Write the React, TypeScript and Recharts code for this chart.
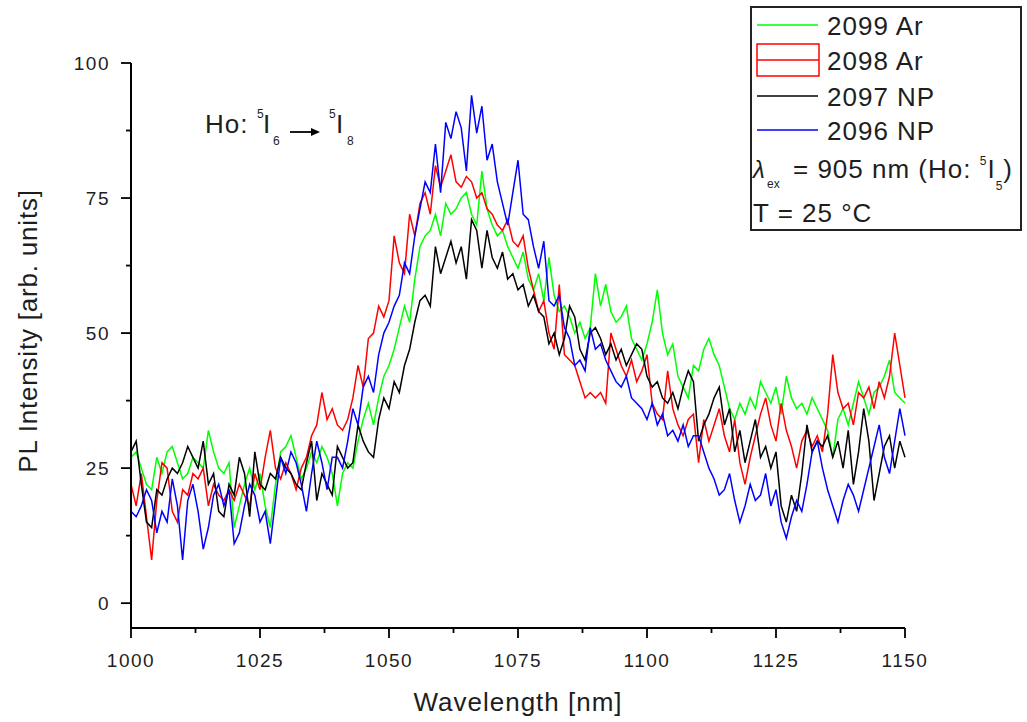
import React from 'react';
import { LineChart, Line, XAxis, YAxis, Customized } from 'recharts';

const FONT = '"Liberation Sans", Arial, sans-serif';
const TEXT = '#1e1e1e';

// wavelength grid, 1 nm step
const WAVELENGTH_NM = Array.from({ length: 151 }, (_, i) => 1000 + i);

// PL intensity, 1000..1150 nm
const S2099_AR = [
  27, 28, 25, 22, 21, 27, 24, 28, 29, 26,
  23, 24, 27, 26, 25, 32, 28, 25, 24, 26,
  14, 18, 22, 25, 21, 24, 18, 14, 22, 28,
  29, 31, 27, 23, 25, 28, 26, 29, 27, 24,
  18, 24, 26, 25, 30, 34, 37, 33, 38, 42,
  44, 47, 51, 55, 52, 60, 66, 68, 69, 72,
  68, 74, 72, 73, 75, 76, 72, 70, 80, 73,
  70, 68, 69, 66, 64, 62, 65, 60, 58, 61,
  56, 64, 57, 54, 55, 53, 50, 52, 49, 51,
  61, 55, 59, 54, 52, 53, 55, 49, 47, 45,
  48, 52, 58, 50, 46, 48, 42, 40, 38, 44,
  43, 47, 49, 46, 44, 40, 36, 34, 37, 35,
  38, 36, 41, 39, 37, 40, 35, 42, 38, 36,
  37, 35, 38, 36, 34, 32, 27, 34, 36, 33,
  37, 41, 38, 35, 39, 40, 42, 45, 39, 38,
  37,
];

const S2098_AR = [
  22, 18, 24, 16, 8, 19, 26, 25, 17, 15,
  21, 20, 24, 23, 25, 18, 22, 20, 19, 21,
  19, 22, 20, 18, 24, 21, 27, 32, 25, 23,
  26, 24, 21, 25, 27, 31, 33, 39, 34, 36,
  33, 32, 34, 38, 44, 40, 49, 50, 55, 53,
  56, 68, 63, 61, 72, 68, 74, 76, 72, 81,
  77, 80, 83, 78, 77, 79, 78, 75, 76, 73,
  72, 70, 69, 71, 67, 66, 68, 62, 58, 54,
  56, 50, 47, 59, 46, 45, 44, 41, 38, 39,
  38, 39, 37, 50, 47, 44, 42, 45, 41, 43,
  46, 37, 35, 34, 43, 36, 33, 31, 34, 35,
  26, 34, 30, 33, 36, 31, 28, 34, 26, 22,
  27, 31, 35, 38, 33, 30, 37, 32, 29, 25,
  30, 32, 29, 31, 28, 35, 46, 39, 36, 37,
  33, 39, 38, 40, 36, 41, 38, 42, 50, 44,
  38,
];

const S2097_NP = [
  28, 30, 22, 15, 14, 21, 20, 23, 25, 24,
  26, 29, 27, 25, 30, 22, 24, 17, 16, 22,
  20, 27, 24, 16, 28, 22, 21, 24, 23, 27,
  25, 24, 22, 21, 26, 30, 19, 24, 22, 20,
  29, 27, 25, 26, 33, 30, 28, 27, 34, 38,
  36, 41, 39, 44, 47, 52, 56, 57, 55, 66,
  61, 64, 67, 63, 66, 60, 71, 69, 62, 69,
  64, 62, 65, 60, 61, 58, 59, 55, 57, 54,
  53, 48, 50, 46, 49, 55, 53, 47, 45, 50,
  51, 49, 46, 48, 45, 47, 44, 46, 48, 47,
  42, 40, 41, 38, 37, 39, 36, 40, 43, 41,
  30, 33, 35, 38, 40, 33, 36, 28, 32, 26,
  30, 34, 27, 29, 25, 28, 18, 15, 20, 17,
  24, 33, 28, 30, 29, 31, 27, 30, 25, 32,
  22, 28, 36, 30, 19, 24, 29, 31, 25, 30,
  27,
];

const S2096_NP = [
  17, 16, 18, 21, 19, 13, 17, 15, 23, 18,
  8, 19, 22, 17, 10, 14, 20, 22, 18, 21,
  11, 13, 18, 22, 20, 15, 17, 11, 19, 27,
  24, 28, 26, 22, 17, 24, 30, 26, 21, 27,
  27, 25, 30, 36, 33, 40, 42, 39, 46, 50,
  52, 55, 57, 63, 61, 68, 73, 78, 76, 85,
  76, 89, 86, 91, 88, 80, 94, 87, 92, 82,
  85, 78, 74, 70, 76, 82, 72, 71, 66, 62,
  67, 56, 55, 57, 51, 49, 44, 45, 43, 51,
  47, 48, 45, 43, 41, 40, 42, 38, 37, 36,
  34, 37, 33, 35, 31, 32, 30, 33, 29, 31,
  31, 28, 25, 23, 20, 21, 24, 19, 15, 18,
  22, 19, 20, 24, 18, 21, 15, 12, 16, 19,
  17, 22, 28, 30, 25, 21, 18, 15, 19, 22,
  20, 17, 21, 25, 29, 33, 27, 24, 30, 36,
  31,
];

const SERIES = [
  { key: 's2099', name: '2099 Ar', color: '#00ff00', values: S2099_AR },
  { key: 's2098', name: '2098 Ar', color: '#ff0000', values: S2098_AR },
  { key: 's2097', name: '2097 NP', color: '#000000', values: S2097_NP },
  { key: 's2096', name: '2096 NP', color: '#0000ff', values: S2096_NP },
];

const X_TICKS = [1000, 1012.5, 1025, 1037.5, 1050, 1062.5, 1075, 1087.5, 1100, 1112.5, 1125, 1137.5, 1150];
const Y_TICKS = [0, 12.5, 25, 37.5, 50, 62.5, 75, 87.5, 100];

const data = WAVELENGTH_NM.map((nm, i) => {
  const row: any = { nm };
  SERIES.forEach(s => { row[s.key] = s.values[i]; });
  return row;
});

const XTick = (props: any) => {
  const { x, y, payload } = props;
  const major = payload.value % 25 === 0;
  const axisY = y - 10;
  return (
    <g>
      <line x1={x} x2={x} y1={axisY} y2={axisY + (major ? 10 : 5)} stroke="#000" strokeWidth={1.8} />
      {major && (
        <text x={x} y={axisY + 39} textAnchor="middle" fontFamily={FONT} fontSize={19} letterSpacing={1.5} fill={TEXT}>
          {payload.value}
        </text>
      )}
    </g>
  );
};

const YTick = (props: any) => {
  const { x, y, payload } = props;
  const major = payload.value % 25 === 0;
  const axisX = x + 10;
  return (
    <g>
      <line x1={axisX} x2={axisX - (major ? 10 : 5)} y1={y} y2={y} stroke="#000" strokeWidth={1.8} />
      {major && (
        <text x={axisX - 21} y={y + 7} textAnchor="end" fontFamily={FONT} fontSize={19} letterSpacing={1.5} fill={TEXT}>
          {payload.value}
        </text>
      )}
    </g>
  );
};

// annotation, axis titles and the boxed legend
const Overlay = () => {
  const rowY = [25, 60, 96, 130];
  return (
    <g fontFamily={FONT} fill={TEXT}>
      <text x={518} y={711} textAnchor="middle" fontSize={26} letterSpacing={1}>Wavelength [nm]</text>
      <text transform="translate(37, 331) rotate(-90)" textAnchor="middle" fontSize={26} letterSpacing={0.8}>
        PL Intensity [arb. units]
      </text>

      <text x={205} y={133} fontSize={26} letterSpacing={1}>Ho:</text>
      <text x={257} y={118} fontSize={12}>5</text>
      <text x={263} y={133} fontSize={26}>I</text>
      <text x={273} y={145} fontSize={12}>6</text>
      <line x1={290} x2={313} y1={132} y2={132} stroke="#000" strokeWidth={1.8} />
      <polygon points="311,128 320,132 311,136" fill="#000" />
      <text x={329} y={118} fontSize={12}>5</text>
      <text x={336} y={133} fontSize={26}>I</text>
      <text x={347} y={145} fontSize={12}>8</text>

      <rect x={751} y={7} width={270} height={223} fill="#fff" stroke="#222" strokeWidth={2} />
      {SERIES.map((s, i) => (
        <g key={s.key}>
          {i === 1 ? (
            <g>
              <rect x={757} y={44} width={62} height={32} fill="none" stroke={s.color} strokeWidth={1.5} />
              <line x1={757} x2={819} y1={60} y2={60} stroke={s.color} strokeWidth={1.5} />
            </g>
          ) : (
            <line x1={757} x2={818} y1={rowY[i]} y2={rowY[i]} stroke={s.color} strokeWidth={1.5} />
          )}
          <text x={827} y={rowY[i] + 10} fontSize={26} letterSpacing={1}>{s.name}</text>
        </g>
      ))}
      <text x={753} y={178} fontSize={24} fontStyle="italic">λ</text>
      <text x={767} y={188} fontSize={12}>ex</text>
      <text x={793} y={178} fontSize={26} letterSpacing={1}>
        = 905 nm (Ho: <tspan dy={-13} fontSize={12}>5</tspan>
        <tspan dy={13} fontSize={26}>I</tspan>
        <tspan dy={12} fontSize={12}>5</tspan>
        <tspan dy={-12} fontSize={26}>)</tspan>
      </text>
      <text x={753} y={222} fontSize={26} letterSpacing={1}>T = 25 °C</text>
    </g>
  );
};

const App: React.FC = () => {
  return (
    <div style={{ position: 'absolute', left: 0, top: 0, width: 1027, height: 722, background: '#fff' }}>
      <LineChart width={1027} height={722} data={data} margin={{ top: 63, right: 122, bottom: 34, left: 71 }}>
        <XAxis
          dataKey="nm"
          type="number"
          domain={[1000, 1150]}
          ticks={X_TICKS}
          interval={0}
          height={60}
          tickSize={10}
          tickMargin={0}
          tickLine={false}
          tick={<XTick />}
          axisLine={{ stroke: '#000', strokeWidth: 2 }}
        />
        <YAxis
          type="number"
          domain={[-4.6, 100]}
          allowDataOverflow
          ticks={Y_TICKS}
          interval={0}
          width={60}
          tickSize={10}
          tickMargin={0}
          tickLine={false}
          tick={<YTick />}
          axisLine={{ stroke: '#000', strokeWidth: 2 }}
        />
        {SERIES.map(s => (
          <Line
            key={s.key}
            type="linear"
            dataKey={s.key}
            name={s.name}
            stroke={s.color}
            strokeWidth={1.5}
            dot={false}
            isAnimationActive={false}
          />
        ))}
        <Customized component={<Overlay />} />
      </LineChart>
    </div>
  );
};

export default App;
